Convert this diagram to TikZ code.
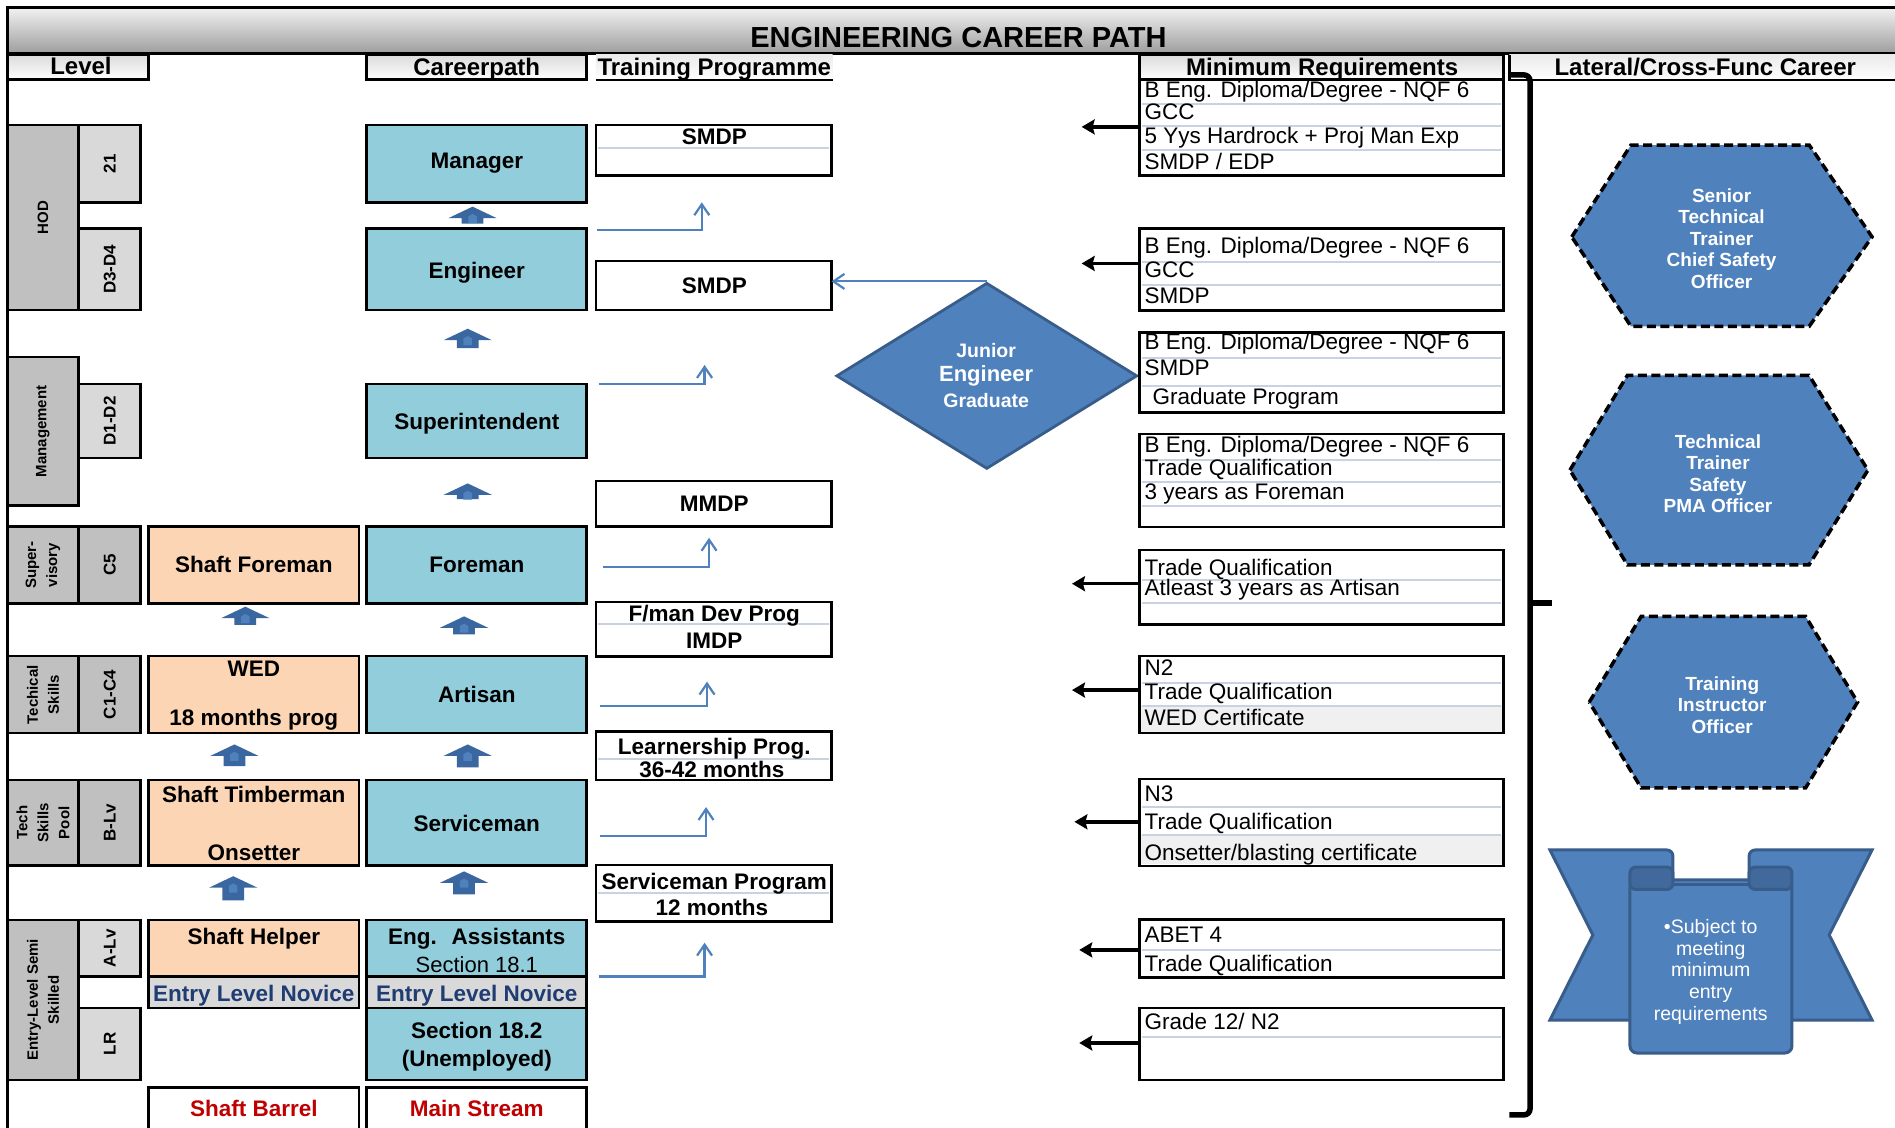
\documentclass[tikz,border=0pt]{standalone}
\usepackage{fontspec}
\setmainfont{Liberation Sans}
\usetikzlibrary{arrows.meta,shapes.geometric}
\definecolor{cpblue}{HTML}{92CDDC}
\definecolor{peach}{HTML}{FCD5B4}
\definecolor{lgray}{HTML}{D9D9D9}
\definecolor{dgray}{HTML}{C0C0C0}
\definecolor{acc}{HTML}{4F81BD}
\definecolor{accdark}{HTML}{385D8A}
\definecolor{curl}{HTML}{41699C}
\definecolor{arrblue}{HTML}{3A679F}
\definecolor{sepc}{HTML}{C8D2E2}
\definecolor{novice}{HTML}{1F3C73}
\definecolor{redt}{HTML}{C00000}
\definecolor{rowgray}{HTML}{F0F0F0}
\newcommand\bx[7]{\node[#6,minimum width={(#4-#2)*1.2086pt},minimum height={(#5-#3)*1.2086pt}] (#1) at ({(#2+#4)/2},{(#3+#5)/2}) {#7};}
\newcommand\rbx[7]{\node[#6,rotate=90,minimum width={(#5-#3)*1.2086pt},minimum height={(#4-#2)*1.2086pt}] (#1) at ({(#2+#4)/2},{(#3+#5)/2}) {#7};}
\newcommand\blkarr[3]{%
 \fill[arrblue] (#1,#2) -- (#1+20,#2+9.5) -- (#1+9,#2+9.5) -- (#1+9,#3) -- (#1-9,#3) -- (#1-9,#2+9.5) -- (#1-20,#2+9.5) -- cycle;
 \fill[acc] (#1-3.5,#2+13.5) -- (#1-3.5,#2+8) -- (#1,#2+6) -- (#1+3.5,#2+8) -- (#1+3.5,#2+13.5) -- cycle;}
\tikzset{
 bb/.style={draw=black, line width=2.6pt, inner sep=0pt, outer sep=0pt},
 cp/.style={bb, fill=cpblue},
 shf/.style={bb, fill=peach},
 lvd/.style={bb, fill=dgray},
 lvl/.style={bb, fill=lgray},
 wb/.style={bb, fill=white},
 hdr/.style={bb, top color=black!14, bottom color=white},
 bt/.style={inner sep=0pt, font=\fontsize{22.5}{26}\selectfont\bfseries, text height=16pt, text depth=0pt},
 ht/.style={inner sep=0pt, font=\fontsize{24}{26}\selectfont\bfseries, text height=17pt, text depth=0pt},
 rt/.style={inner sep=0pt, font=\fontsize{22}{26}\selectfont, text height=15.8pt, text depth=0pt},
 mrt/.style={inner sep=0pt, anchor=base west, font=\fontsize{22.5}{26}\selectfont},
 lvcat/.style={align=center, font=\fontsize{15}{21}\selectfont\bfseries},
 lvcode/.style={font=\fontsize{17}{20}\selectfont\bfseries},
 rowsep/.style={draw=sepc, line width=2pt},
 elb/.style={draw=acc, line width=2.2pt, -{Straight Barb[length=11pt,width=15pt]}},
 blk/.style={draw=black, line width=3.5pt, -{Stealth[length=13pt,width=15pt,inset=2pt]}},
 hexa/.style={fill=acc, draw=black, line width=3.5pt, dash pattern=on 9pt off 4.5pt},
 wt/.style={text=white, align=center, inner sep=0pt, font=\fontsize{19}{21.5}\selectfont\bfseries},
}
\begin{document}
\begin{tikzpicture}[x=1.2086pt,y=-1.2086pt]
\useasboundingbox (0,0) rectangle (1568,933);
\fill[white] (0,0) rectangle (1568,933);
% title bar
\node[draw=black, line width=2.8pt, inner sep=0pt, top color=white!95!black, bottom color=black!38, minimum width={1590*1.2086pt}, minimum height={38*1.2086pt}] (titlebar) at (801,25) {};
\node[inner sep=0pt, font=\fontsize{29}{31}\selectfont\bfseries, text height=20.5pt, text depth=0pt] (title) at (793,30.5) {ENGINEERING CAREER PATH};
\draw[line width=2.6pt] (6,6) -- (6,940);
% headers
\bx{hlev}{6}{45.5}{123}{66}{hdr}{}
\node[ht] (hlevt) at (67,55) {Level};
\bx{hcp}{303.5}{45.5}{485.5}{66}{hdr}{}
\node[ht] (hcpt) at (394.5,55.5) {Careerpath};
\bx{htp}{493}{45.5}{689}{66}{inner sep=0pt, top color=black!8, bottom color=white}{}
\draw[line width=2.6pt] (htp.south west) -- (htp.south east);
\node[ht] (htpt) at (591,55.5) {Training Programme};
\bx{hmr}{943}{45.5}{1244}{66}{hdr}{}
\node[ht] (hmrt) at (1094,55.5) {Minimum Requirements};
\bx{hlat}{1249}{45.5}{1575}{66}{inner sep=0pt, top color=black!8, bottom color=white}{}
\draw[line width=2.6pt] (hlat.north west) -- (hlat.south west) -- (hlat.south east);
\node[ht] (hlatt) at (1411,55.5) {Lateral/Cross-Func Career};
% level column
\rbx{hod}{6}{103.4}{65}{256.5}{lvd,lvcat}{HOD}
\rbx{l21}{65}{103.4}{116.5}{167.4}{lvl,lvcode}{21}
\rbx{ld34}{65}{189}{116.5}{256.5}{lvl,lvcode}{D3-D4}
\rbx{mgmt}{6}{295.5}{65}{418.4}{lvd,lvcat}{Management}
\rbx{ld12}{65}{317.7}{116.5}{379}{lvl,lvcode}{D1-D2}
\rbx{supv}{6}{435.8}{65}{499.2}{lvd,lvcat}{Super-\\visory}
\rbx{lc5}{65}{435.8}{116.5}{499.2}{lvd,lvcode}{C5}
\rbx{tsk}{6}{542.9}{65}{606.6}{lvd,lvcat}{Techical\\Skills}
\rbx{lc14}{65}{542.9}{116.5}{606.6}{lvd,lvcode}{C1-C4}
\rbx{tsp}{6}{645.4}{65}{716.2}{lvd,lvcat}{Tech\\Skills\\Pool}
\rbx{lblv}{65}{645.4}{116.5}{716.2}{lvd,lvcode}{B-Lv}
\rbx{ent}{6}{761.2}{65}{893.6}{lvd,lvcat}{Entry-Level Semi\\Skilled}
\rbx{lalv}{65}{761.2}{116.5}{808.1}{lvl,lvcode}{A-Lv}
\rbx{llr}{65}{834.1}{116.5}{893.6}{lvl,lvcode}{LR}
% shaft column
\bx{sf}{122.9}{435.8}{296.9}{499.2}{shf}{}
\node[bt] (sft) at (210,467.5) {Shaft Foreman};
\bx{wed}{122.9}{542.9}{296.9}{606.6}{shf}{}
\node[bt] (wedt) at (210,553) {WED};
\node[bt] (wedt2) at (210,593.5) {18 months prog};
\bx{stm}{122.9}{645.4}{296.9}{716.2}{shf}{}
\node[bt] (stmt) at (210,657) {Shaft Timberman};
\node[bt] (stmt2) at (210,705) {Onsetter};
\bx{shh}{122.9}{761.2}{296.9}{808.1}{shf}{}
\node[bt] (shht) at (210,774.5) {Shaft Helper};
\bx{shnov}{122.9}{808.1}{296.9}{834.1}{lvl}{}
\node[bt, text=novice] (shnovt) at (210,821.8) {Entry Level Novice};
\bx{sb}{122.9}{900}{296.9}{945}{wb}{}
\node[bt, text=redt] (sbt) at (210,917) {Shaft Barrel};
% careerpath column
\bx{mgr}{303.5}{103.4}{485.5}{167.4}{cp}{}
\node[bt] (mgrt) at (394.5,132.4) {Manager};
\bx{eng}{303.5}{189}{485.5}{256.5}{cp}{}
\node[bt] (engt) at (394.5,224) {Engineer};
\bx{sup}{303.5}{317.7}{485.5}{379}{cp}{}
\node[bt] (supt) at (394.5,349) {Superintendent};
\bx{frm}{303.5}{435.8}{485.5}{499.2}{cp}{}
\node[bt] (frmt) at (394.5,467.5) {Foreman};
\bx{art}{303.5}{542.9}{485.5}{606.6}{cp}{}
\node[bt] (artt) at (394.5,575) {Artisan};
\bx{svc}{303.5}{645.4}{485.5}{716.2}{cp}{}
\node[bt] (svct) at (394.5,681) {Serviceman};
\bx{ea}{303.5}{761.2}{485.5}{808.1}{cp}{}
\node[bt] (eat) at (394.5,774.5) {Eng.~ Assistants};
\node[rt] (eat2) at (394.5,798.5) {Section 18.1};
\bx{cpnov}{303.5}{808.1}{485.5}{834.1}{lvl}{}
\node[bt, text=novice] (cpnovt) at (394.5,821.8) {Entry Level Novice};
\bx{s182}{303.5}{834.1}{485.5}{893.6}{cp}{}
\node[bt] (s182t) at (394.5,853) {Section 18.2};
\node[bt] (s182t2) at (394.5,876) {(Unemployed)};
\bx{ms}{303.5}{900}{485.5}{945}{wb}{}
\node[bt, text=redt] (mst) at (394.5,917) {Main Stream};
% block arrows
\blkarr{391}{171}{185}
\blkarr{387}{272}{288}
\blkarr{387}{400}{413}
\blkarr{203}{502}{517}
\blkarr{384}{510}{525}
\blkarr{194}{616}{634}
\blkarr{387}{616}{635}
\blkarr{193}{725}{745}
\blkarr{384}{721}{740}
% training programme
\bx{tp1}{493}{103.4}{688}{145.4}{wb}{}
\draw[rowsep] (495,122.7) -- (686,122.7);
\node[bt] (tp1t) at (591,113) {SMDP};
\bx{tp2}{493}{216}{688}{256.5}{wb}{}
\node[bt] (tp2t) at (591,236.6) {SMDP};
\bx{tp3}{493}{398}{688}{435.8}{wb}{}
\node[bt] (tp3t) at (591,416.5) {MMDP};
\bx{tp4}{493}{498}{688}{543.3}{wb}{}
\draw[rowsep] (495,516) -- (686,516);
\node[bt] (tp4t) at (591,507.4) {F/man Dev Prog};
\node[bt] (tp4t2) at (591,529.6) {IMDP};
\bx{tp5}{493}{605.4}{688}{645.4}{wb}{}
\draw[rowsep] (495,628) -- (686,628);
\node[bt] (tp5t) at (591,617.8) {Learnership Prog.};
\node[bt] (tp5t2) at (589,636.5) {36-42 months};
\bx{tp6}{493}{715.7}{688}{762.6}{wb}{}
\draw[rowsep] (495,738.6) -- (686,738.6);
\node[bt] (tp6t) at (591,729.5) {Serviceman Program};
\node[bt] (tp6t2) at (589,750.6) {12 months};
% elbow arrows
\coordinate (e1s) at (494,190.3); \coordinate (e1t) at (580.7,167.4);
\coordinate (e2s) at (495.5,318); \coordinate (e2t) at (583,302);
\coordinate (e3s) at (499,469); \coordinate (e3t) at (586.7,445);
\coordinate (e4s) at (496.5,584); \coordinate (e4t) at (585,564);
\coordinate (e5s) at (496.5,691.7); \coordinate (e5t) at (584.2,667.8);
\coordinate (e6s) at (495.5,808); \coordinate (e6t) at (583,780);
\foreach \i in {1,...,6} {\draw[elb] (e\i s) -| (e\i t);}
% diamond
\node[diamond, fill=acc, draw=accdark, line width=2.8pt, inner sep=0pt, minimum width={249*1.2086pt}, minimum height={154*1.2086pt}] (jeg) at (816.5,311) {};
\node[wt, font=\fontsize{19.5}{21}\selectfont\bfseries] (jegt1) at (816,290) {Junior};
\node[wt, font=\fontsize{22}{24}\selectfont\bfseries] (jegt2) at (816,311) {Engineer};
\node[wt, font=\fontsize{19.5}{21}\selectfont\bfseries] (jegt3) at (816,331.5) {Graduate};
\draw[elb] (jeg.north) -- (tp2.east |- jeg.north);
% minimum requirement boxes
\bx{mr1}{943}{66}{1244}{145}{wb}{}
\foreach \y in {86,104,124} {\draw[rowsep] (945,\y) -- (1242,\y);}
\node[mrt] (mr1a) at (947,80.5) {B Eng. Diploma/Degree - NQF 6};
\node[mrt] (mr1b) at (947,99) {GCC};
\node[mrt] (mr1c) at (947,119) {5 Yys Hardrock + Proj Man Exp};
\node[mrt] (mr1d) at (947,140) {SMDP / EDP};
\bx{mr2}{943}{189}{1244}{257}{wb}{}
\foreach \y in {217,236} {\draw[rowsep] (945,\y) -- (1242,\y);}
\node[mrt] (mr2a) at (947,210) {B Eng. Diploma/Degree - NQF 6};
\node[mrt] (mr2b) at (947,229.5) {GCC};
\node[mrt] (mr2c) at (947,251) {SMDP};
\bx{mr3}{943}{275}{1244}{341.5}{wb}{}
\foreach \y in {296,319} {\draw[rowsep] (945,\y) -- (1242,\y);}
\node[mrt] (mr3a) at (947,289) {B Eng. Diploma/Degree - NQF 6};
\node[mrt] (mr3b) at (947,311) {SMDP};
\node[mrt] (mr3c) at (953.5,335) {Graduate Program};
\bx{mr4}{943}{359}{1244}{436}{wb}{}
\foreach \y in {380.6,398.6,418.7} {\draw[rowsep] (945,\y) -- (1242,\y);}
\node[mrt] (mr4a) at (947,374.5) {B Eng. Diploma/Degree - NQF 6};
\node[mrt] (mr4b) at (947,393.8) {Trade Qualification};
\node[mrt] (mr4c) at (947,413.7) {3 years as Foreman};
\bx{mr5}{943}{455}{1244}{516.5}{wb}{}
\foreach \y in {480,499} {\draw[rowsep] (945,\y) -- (1242,\y);}
\node[mrt] (mr5a) at (947,475.8) {Trade Qualification};
\node[mrt] (mr5b) at (947,493) {Atleast 3 years as Artisan};
\bx{mr6}{943}{542.8}{1244}{606.6}{wb}{}
\fill[rowgray] (944.5,584) rectangle (1242.5,605.3);
\foreach \y in {565,584} {\draw[rowsep] (945,\y) -- (1242,\y);}
\node[mrt] (mr6a) at (947,559.3) {N2};
\node[mrt] (mr6b) at (947,579) {Trade Qualification};
\node[mrt] (mr6c) at (947,600.7) {WED Certificate};
\bx{mr7}{943}{644.6}{1244}{716.5}{wb}{}
\fill[rowgray] (944.5,691) rectangle (1242.5,715.2);
\foreach \y in {668,691} {\draw[rowsep] (945,\y) -- (1242,\y);}
\node[mrt] (mr7a) at (947,663) {N3};
\node[mrt] (mr7b) at (947,686.7) {Trade Qualification};
\node[mrt] (mr7c) at (947,711.6) {Onsetter/blasting certificate};
\bx{mr8}{943}{761}{1244}{809}{wb}{}
\draw[rowsep] (945,786) -- (1242,786);
\node[mrt] (mr8a) at (947,780) {ABET 4};
\node[mrt] (mr8b) at (947,804) {Trade Qualification};
\bx{mr9}{943}{834}{1244}{893.6}{wb}{}
\draw[rowsep] (945,858) -- (1242,858);
\node[mrt] (mr9a) at (947,852.2) {Grade 12/ N2};
% redraw borders over fills
\foreach \n in {mr1,mr2,mr3,mr4,mr5,mr6,mr7,mr8,mr9} {\draw[line width=2.6pt] (\n.north west) rectangle (\n.south east);}
% black arrows
\coordinate (k1) at (895,105);
\coordinate (k2) at (895,218);
\coordinate (k5) at (887,483);
\coordinate (k6) at (887,571);
\coordinate (k7) at (889,680);
\coordinate (k8) at (893,786);
\coordinate (k9) at (893,863);
\foreach \n/\k in {mr1/k1,mr2/k2,mr5/k5,mr6/k6,mr7/k7,mr8/k8,mr9/k9} {\draw[blk] (\n.west |- \k) -- (\k);}
% bracket
\draw[line width=5.5pt, rounded corners=6pt] (1250,62) -- (1266,62) -- (1266,922.5) -- (1249,922.5);
\draw[line width=6pt] (1266,499) -- (1284,499);
% hexagons
\filldraw[hexa] (1300.5,196) -- (1349.5,120) -- (1497,120) -- (1549,196) -- (1497,270) -- (1349.5,270) -- cycle;
\node[wt] (hex1) at (1424.5,197.5) {Senior\\Technical\\Trainer\\Chief Safety\\Officer};
\filldraw[hexa] (1299,389) -- (1346.6,310.5) -- (1496.8,310.5) -- (1545.6,389) -- (1496.8,467.5) -- (1346.6,467.5) -- cycle;
\node[wt] (hex2) at (1421.5,392) {Technical\\Trainer\\Safety\\PMA Officer};
\filldraw[hexa] (1315,581) -- (1358,510) -- (1494,510) -- (1537,581) -- (1494,652) -- (1358,652) -- cycle;
\node[wt] (hex3) at (1425,583.5) {Training\\Instructor\\Officer};
% ribbon
\filldraw[fill=acc, draw=accdark, line width=3pt] (1282.5,703.3) [rounded corners=6] -- (1384.2,703.3) -- (1384.2,745) [sharp corners] -- (1360,745) -- (1360,844) -- (1282.5,844) -- (1318,773.6) -- cycle;
\filldraw[fill=acc, draw=accdark, line width=3pt] (1549,703.3) [rounded corners=6] -- (1447.3,703.3) -- (1447.3,745) [sharp corners] -- (1471.5,745) -- (1471.5,844) -- (1549,844) -- (1513.5,773.6) -- cycle;
\filldraw[fill=acc, draw=accdark, line width=3pt, rounded corners=7] (1348.7,728) rectangle (1482.7,871.3);
\filldraw[fill=curl, draw=accdark, line width=3pt, rounded corners=6] (1348.7,717.4) rectangle (1384.2,736);
\filldraw[fill=curl, draw=accdark, line width=3pt, rounded corners=6] (1447.3,717.4) rectangle (1482.7,736);
\draw[accdark, line width=3pt] (1384.2,731.5) -- (1447.3,731.5);
\node[text=white, align=center, inner sep=0pt, font=\fontsize{19.5}{21.7}\selectfont] (ribtxt) at (1415.5,804) {•Subject to\\meeting\\minimum\\entry\\requirements};
\end{tikzpicture}
\end{document}
